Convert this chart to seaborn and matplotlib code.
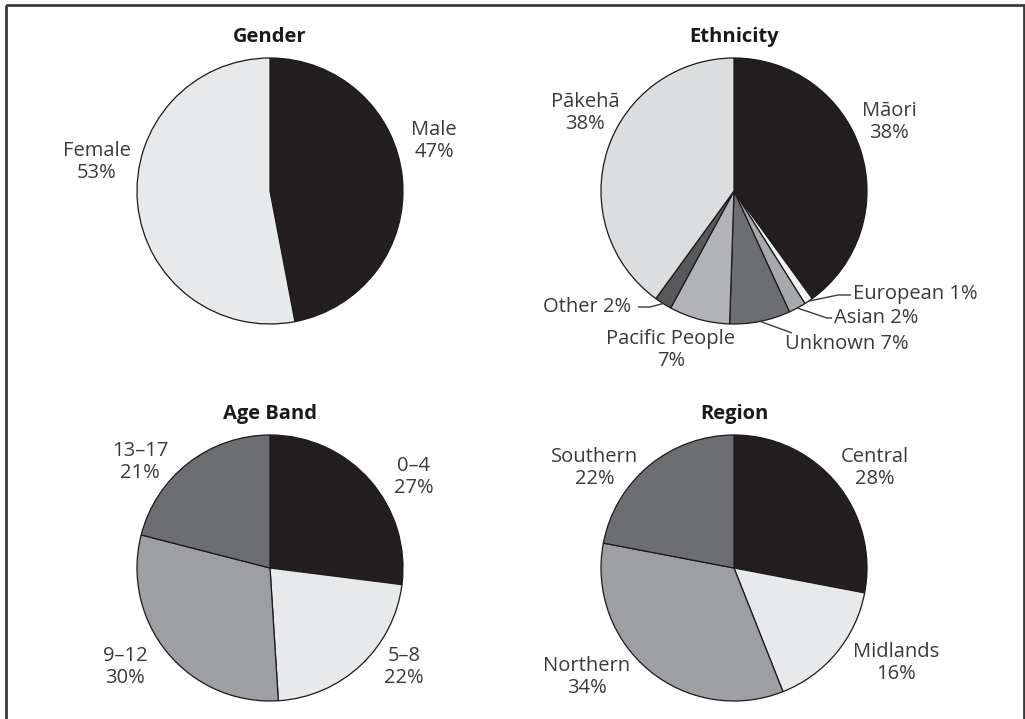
import numpy as np
import matplotlib
matplotlib.use("Agg")
import matplotlib.pyplot as plt
from matplotlib.patches import Rectangle
import seaborn as sns

# ---- data -------------------------------------------------------------
gender_labels = ["Male", "Female"]
gender_values = [47, 53]

ethnicity_labels = ["Māori", "European", "Asian", "Unknown",
                    "Pacific People", "Other", "Pākehā"]
ethnicity_values = [38, 1, 2, 7, 7, 2, 38]

age_labels = ["0–4", "5–8", "9–12", "13–17"]
age_values = [27, 22, 30, 21]

region_labels = ["Central", "Midlands", "Northern", "Southern"]
region_values = [28, 16, 34, 22]

# ---- style ------------------------------------------------------------
sns.set_theme(style="white")
plt.rcParams["font.family"] = ["Open Sans", "DejaVu Sans"]

BLACK = "#231f20"
LIGHT = "#e8e9ea"
MID = "#9d9fa2"
DARK = "#6d6e71"
EDGE = "#1a1a1a"
TEXT = "#3a3a3a"

gender_colors = [BLACK, LIGHT]
ethnicity_colors = [BLACK, "#f1f2f2", "#a7a9ac", DARK, "#b1b3b6", "#58595b", "#dcdddf"]
age_colors = [BLACK, LIGHT, MID, DARK]
region_colors = [BLACK, LIGHT, MID, DARK]

W, H = 1025, 719
R = 133
FS = 14.5

fig = plt.figure(figsize=(W / 100, H / 100), dpi=100)
ax = fig.add_axes([0, 0, 1, 1])


def draw_pie(values, colors, center, title):
    wedges, _ = ax.pie(values, colors=colors, center=center, radius=R,
                       startangle=-90, counterclock=True,
                       wedgeprops=dict(edgecolor=EDGE, linewidth=0.9))
    ax.text(center[0], center[1] - 154, title, ha="center", va="center",
            fontsize=FS, fontweight="bold", color="#1a1a1a")
    return wedges


def rim_point(wedge, center):
    mid = np.deg2rad((wedge.theta1 + wedge.theta2) / 2)
    return center[0] + R * np.cos(mid), center[1] + R * np.sin(mid)


def label(x, y, text, ha="center"):
    ax.text(x, y, text, ha=ha, va="center", fontsize=FS, color=TEXT,
            linespacing=1.15)


def stacked(name, value):
    return f"{name}\n{value}%"


def inline(name, value):
    return f"{name} {value}%"


# ---- Gender -----------------------------------------------------------
c_gender = (270, 191)
draw_pie(gender_values, gender_colors, c_gender, "Gender")
label(434, 141, stacked(gender_labels[0], gender_values[0]))
label(97, 162, stacked(gender_labels[1], gender_values[1]))

# ---- Ethnicity --------------------------------------------------------
c_eth = (734, 191)
eth_wedges = draw_pie(ethnicity_values, ethnicity_colors, c_eth, "Ethnicity")
label(889, 122, stacked(ethnicity_labels[0], ethnicity_values[0]))
label(585, 113, stacked(ethnicity_labels[6], ethnicity_values[6]))
label(671, 350, stacked(ethnicity_labels[4], ethnicity_values[4]))
label(853, 294, inline(ethnicity_labels[1], ethnicity_values[1]), ha="left")
label(834, 318, inline(ethnicity_labels[2], ethnicity_values[2]), ha="left")
label(785, 344, inline(ethnicity_labels[3], ethnicity_values[3]), ha="left")
label(631, 307, inline(ethnicity_labels[5], ethnicity_values[5]), ha="right")

# leader lines from slice edge to the small-slice labels
leaders = {
    1: [(838, 295), (851, 295)],
    2: [(827, 318), (832, 318)],
    3: [(792, 333)],
    5: [(650, 307), (638, 307)],
}
for idx, pts in leaders.items():
    start = rim_point(eth_wedges[idx], c_eth)
    xs = [start[0]] + [p[0] for p in pts]
    ys = [start[1]] + [p[1] for p in pts]
    ax.plot(xs, ys, color=TEXT, linewidth=1.0, solid_capstyle="butt")

# ---- Age Band ---------------------------------------------------------
c_age = (270, 568)
draw_pie(age_values, age_colors, c_age, "Age Band")
label(414, 477, stacked(age_labels[0], age_values[0]))
label(404, 667, stacked(age_labels[1], age_values[1]))
label(125, 667, stacked(age_labels[2], age_values[2]))
label(140, 462, stacked(age_labels[3], age_values[3]))

# ---- Region -----------------------------------------------------------
c_reg = (734, 568)
draw_pie(region_values, region_colors, c_reg, "Region")
label(875, 468, stacked(region_labels[0], region_values[0]))
label(896, 663, stacked(region_labels[1], region_values[1]))
label(587, 677, stacked(region_labels[2], region_values[2]))
label(595, 468, stacked(region_labels[3], region_values[3]))

# ---- frame ------------------------------------------------------------
ax.set_xlim(0, W)
ax.set_ylim(H, 0)
ax.set_aspect("equal")
ax.axis("off")
ax.add_patch(Rectangle((5.5, 4.5), 1018, 730, fill=False, edgecolor="#3a3a3a",
                       linewidth=2.0, clip_on=False))

fig.savefig("out.png", dpi=100, facecolor="white")
